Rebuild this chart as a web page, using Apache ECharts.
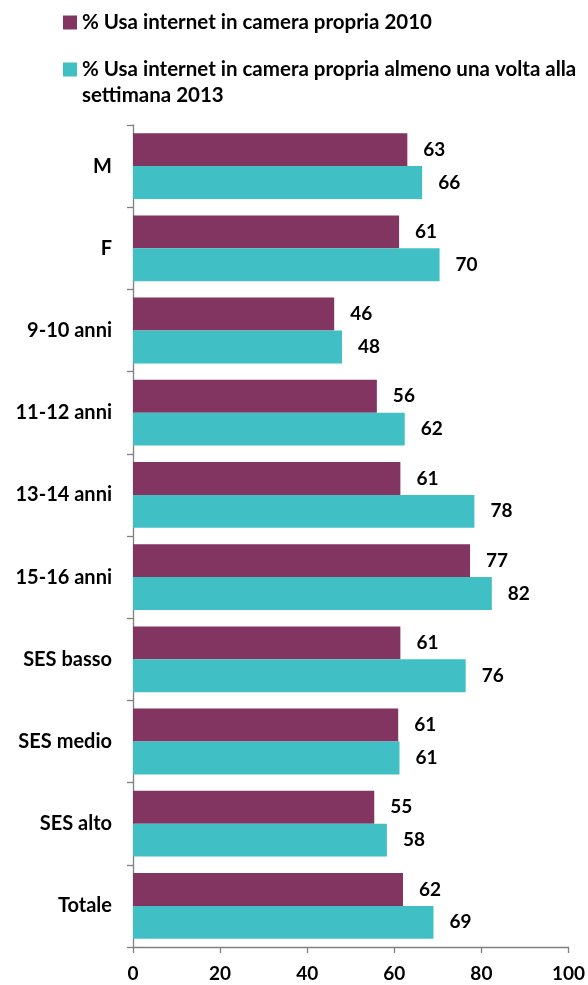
<!DOCTYPE html>
<html>
<head>
<meta charset="utf-8">
<style>html,body{margin:0;padding:0;background:#fff;}#c{width:588px;height:985px;}</style>
<script src="https://cdn.jsdelivr.net/npm/echarts@6/dist/echarts.min.js"></script>
</head>
<body>
<div id="c"></div>
<script>
const categories = ['M','F','9-10 anni','11-12 anni','13-14 anni','15-16 anni','SES basso','SES medio','SES alto','Totale'];
const seriesNames = ['% Usa internet in camera propria 2010','% Usa internet in camera propria almeno una volta alla settimana 2013'];
const legendLines2013 = ['% Usa internet in camera propria almeno una volta alla', 'settimana 2013'];
const values2010 = [63.0, 61.1, 46.2, 56.0, 61.4, 77.4, 61.4, 60.9, 55.4, 62.0];
const values2013 = [66.4, 70.4, 48.0, 62.4, 78.4, 82.4, 76.4, 61.2, 58.3, 69.0];
const xTicks = [0, 20, 40, 60, 80, 100];

const FONT = 'Lato';
const purple = '#823560';
const teal = '#40C0C4';

const chart = echarts.init(document.getElementById('c'), null, {renderer:'canvas'});
const labelCfg = {
  show: true, position: 'right', distance: 16,
  fontFamily: FONT, fontWeight: 'bold', fontSize: 19, color: '#000',
  formatter: p => Math.round(p.value)
};
const legendText = {fontFamily: FONT, fontWeight: 'bold', fontSize: 20.5, color: '#000'};
chart.setOption({
  animation: false,
  title: {
    text: legendLines2013[1], left: 82, top: 85, padding: 0,
    textStyle: legendText
  },
  legend: [
    {
      left: 63, top: 12, orient: 'vertical', itemWidth: 14, itemHeight: 14, itemGap: 4,
      padding: 0, icon: 'rect',
      data: [seriesNames[0]],
      textStyle: legendText
    },
    {
      left: 63, top: 59, orient: 'vertical', itemWidth: 14, itemHeight: 14, itemGap: 4,
      padding: 0, icon: 'rect',
      data: [seriesNames[1]],
      formatter: () => legendLines2013[0],
      textStyle: legendText
    }
  ],
  grid: {left: 133, right: 19, top: 125, bottom: 38, containLabel: false},
  xAxis: {
    type: 'value', min: 0, max: 100, interval: 20,
    axisLine: {show: true, lineStyle: {color: '#808080', width: 1.3}},
    axisTick: {show: true, length: 6, lineStyle: {color: '#808080', width: 1.3}},
    splitLine: {show: false},
    axisLabel: {fontFamily: FONT, fontWeight: 'bold', fontSize: 19, color: '#000', margin: 17,
      formatter: v => xTicks.includes(v) ? String(v) : ''}
  },
  yAxis: {
    type: 'category', data: categories, inverse: true,
    axisLine: {show: true, lineStyle: {color: '#808080', width: 1.3}},
    axisTick: {show: true, length: 6, alignWithLabel: false, lineStyle: {color: '#808080', width: 1.3}},
    axisLabel: {fontFamily: FONT, fontWeight: 'bold', fontSize: 20, color: '#000', margin: 21}
  },
  series: [
    {name: seriesNames[0], type: 'bar', data: values2010, barGap: '0%', barCategoryGap: '20%',
      itemStyle: {color: purple}, label: labelCfg},
    {name: seriesNames[1], type: 'bar', data: values2013, barGap: '0%', barCategoryGap: '20%',
      itemStyle: {color: teal}, label: labelCfg}
  ]
});
</script>
</body>
</html>
